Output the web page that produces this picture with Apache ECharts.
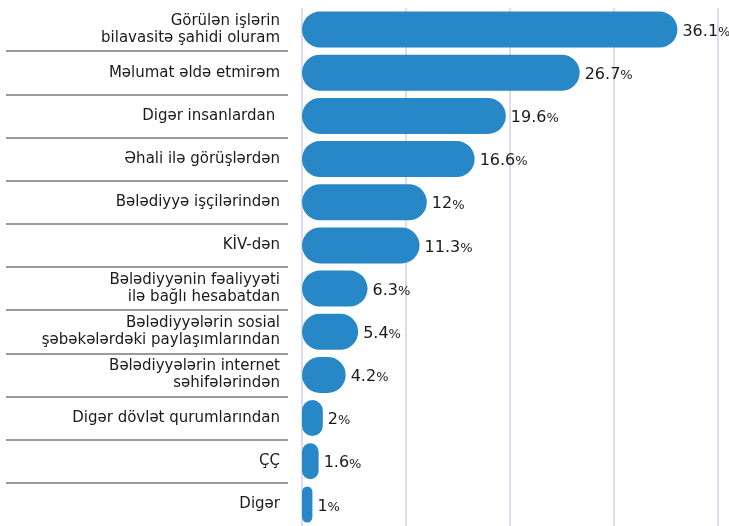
<!DOCTYPE html>
<html>
<head>
<meta charset="utf-8">
<script src="https://cdn.jsdelivr.net/npm/echarts@6/dist/echarts.min.js"></script>
<style>html,body{margin:0;padding:0;background:#fff}#c{width:729px;height:526px}</style>
</head>
<body>
<div id="c"></div>
<script>
var categories = [
  "Görülən işlərin\nbilavasitə şahidi oluram",
  "Məlumat əldə etmirəm",
  "Digər insanlardan ",
  "Əhali ilə görüşlərdən",
  "Bələdiyyə işçilərindən",
  "KİV-dən",
  "Bələdiyyənin fəaliyyəti\nilə bağlı hesabatdan",
  "Bələdiyyələrin sosial\nşəbəkələrdəki paylaşımlarından",
  "Bələdiyyələrin internet\nsəhifələrindən",
  "Digər dövlət qurumlarından",
  "ÇÇ",
  "Digər"
];
var values = [36.1, 26.7, 19.6, 16.6, 12, 11.3, 6.3, 5.4, 4.2, 2, 1.6, 1];
var xTicks = [0, 10, 20, 30, 40];

var FONT = "DejaVu Sans";
var chart = echarts.init(document.getElementById('c'));
chart.setOption({
  animation: false,
  grid: [
    {left: 302, width: 416, top: 8, height: 522, containLabel: false},
    {left: 6, width: 282, top: 8, height: 522, containLabel: false}
  ],
  xAxis: [
    {type: 'value', gridIndex: 0, min: xTicks[0], max: xTicks[xTicks.length - 1], interval: 10,
     axisLabel: {show: false}, axisTick: {show: false}, axisLine: {show: false},
     splitLine: {show: true, lineStyle: {color: '#dcdcf0', width: 2}}},
    {type: 'value', gridIndex: 1, show: false, min: 0, max: 1}
  ],
  yAxis: [
    {type: 'category', gridIndex: 0, data: categories, inverse: true,
     axisLine: {show: false}, axisTick: {show: false},
     axisLabel: {margin: 22, fontFamily: FONT, fontSize: 15, color: '#1a1a1a', lineHeight: 17, align: 'right'}},
    {type: 'category', gridIndex: 1, data: categories, inverse: true,
     axisLine: {show: false}, axisTick: {show: false}, axisLabel: {show: false},
     splitLine: {show: true, showMinLine: false, showMaxLine: false, lineStyle: {color: '#7a7a7a', width: 1.5}}}
  ],
  series: [{
    type: 'bar', xAxisIndex: 0, yAxisIndex: 0, data: values,
    barWidth: 36,
    itemStyle: {color: '#2787c7', borderRadius: 18},
    label: {
      show: true, position: 'right', distance: 5, offset: [0, 2],
      formatter: function (p) { return '{n|' + p.value + '}{p|%}'; },
      rich: {
        n: {fontFamily: FONT, fontSize: 16, color: '#1a1a1a'},
        p: {fontFamily: FONT, fontSize: 13, color: '#1a1a1a', padding: [2, 0, 0, 0]}
      }
    }
  }]
});
</script>
</body>
</html>
